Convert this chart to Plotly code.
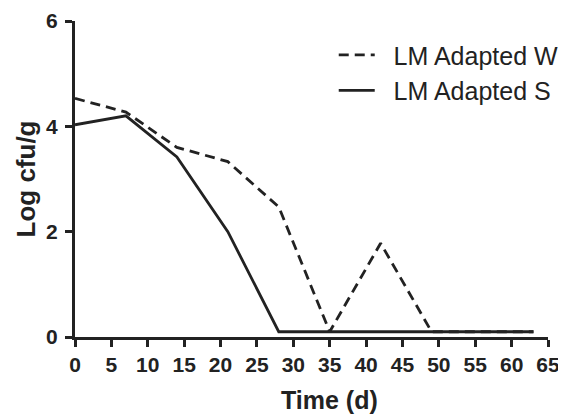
import plotly.graph_objects as go

days = [0, 7, 14, 21, 28, 35, 42, 49, 56, 63]
adapted_w = [4.53, 4.27, 3.6, 3.33, 2.47, 0.1, 1.78, 0.1, 0.1, 0.1]
adapted_s = [4.03, 4.2, 3.42, 2.0, 0.1, 0.1, 0.1, 0.1, 0.1, 0.1]
x_ticks = list(range(0, 70, 5))
y_ticks = [0, 2, 4, 6]
series_names = ["\u00a0\u00a0LM Adapted W", "\u00a0\u00a0LM Adapted S"]

FONT = "Liberation Sans, Arial"
INK = "#222222"

fig = go.Figure()
fig.add_trace(go.Scatter(x=days, y=adapted_w, mode="lines", name=series_names[0],
                         legendgroup="w",
                         line=dict(color=INK, width=2.8, dash="10px,6px")))
fig.add_trace(go.Scatter(x=days, y=adapted_s, mode="lines", name=series_names[1],
                         legendgroup="s",
                         line=dict(color=INK, width=2.8)))

# page body has an 8px margin, so the figure is 8px smaller on each axis
fig.update_layout(
    width=558, height=406,
    margin=dict(l=67, r=18, t=13, b=77, autoexpand=False),
    paper_bgcolor="white", plot_bgcolor="white",
    font=dict(family=FONT, color=INK),
    legend=dict(x=0.547, y=0.965, xanchor="left", yanchor="top",
                font=dict(family=FONT, size=25, color=INK),
                tracegroupgap=0, itemwidth=36, bgcolor="rgba(0,0,0,0)"),
    xaxis=dict(range=[0, 65], tickvals=x_ticks, ticks="outside", ticklen=7,
               tickwidth=2.8, tickcolor=INK, showline=True, linewidth=3,
               linecolor=INK, showgrid=False, zeroline=False,
               tickfont=dict(family=FONT, size=21, color=INK, weight="bold")),
    yaxis=dict(range=[0, 6], tickvals=y_ticks, ticks="outside", ticklen=7,
               tickwidth=2.8, tickcolor=INK, showline=True, linewidth=3,
               linecolor=INK, showgrid=False, zeroline=False,
               ticklabelstandoff=3,
               tickfont=dict(family=FONT, size=21, color=INK, weight="bold"),
               title=dict(text="<b>Log cfu/g</b>", font=dict(size=26, family=FONT), standoff=4)),
    annotations=[dict(text="<b>Time (d)</b>", xref="paper", yref="paper",
                      x=0.537, y=-0.199, xanchor="center", yanchor="middle",
                      showarrow=False, font=dict(size=25, family=FONT, color=INK))],
)

fig.write_html("out.html")
